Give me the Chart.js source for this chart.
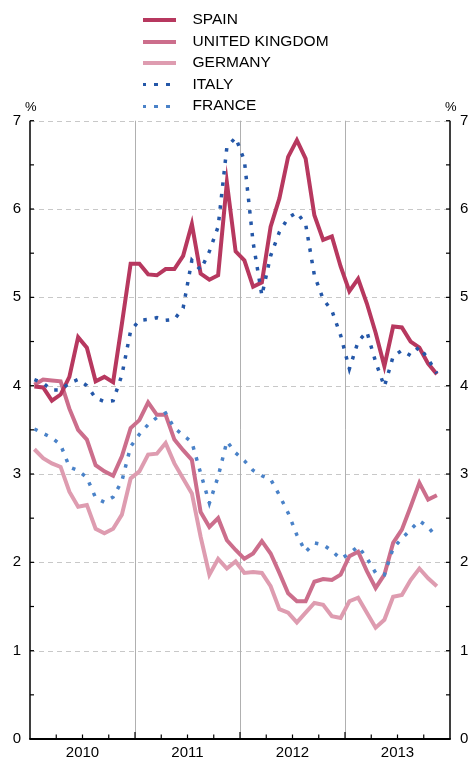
<!DOCTYPE html>
<html>
<head>
<meta charset="utf-8">
<script src="https://cdn.jsdelivr.net/npm/chart.js@4/dist/chart.umd.min.js"></script>
<style>
  html, body { margin: 0; padding: 0; background: #fff; }
  #wrap { position: relative; width: 468px; height: 758px; font-family: "Liberation Sans", Arial, sans-serif; color: #000; }
  #legend { position: absolute; left: 143px; top: 8px; }
  .row { height: 21.6px; line-height: 21.6px; font-size: 15.5px; white-space: nowrap; }
  .swatch { display: inline-block; width: 33px; vertical-align: middle; margin-right: 16.5px; }
  .pct { position: absolute; top: 99px; font-size: 13px; }
</style>
</head>
<body>
<div id="wrap">
  <canvas id="chart" width="468" height="758"></canvas>
  <div id="legend"></div>
  <div class="pct" style="left:25px">%</div>
  <div class="pct" style="left:445px">%</div>
</div>
<script>
// monthly, Jan 2010 - Nov 2013
const years = ['2010', '2011', '2012', '2013'];
const seriesNames = ['SPAIN', 'UNITED KINGDOM', 'GERMANY', 'ITALY', 'FRANCE'];

const spain = [3.99, 3.98, 3.83, 3.90, 4.10, 4.55, 4.43, 4.05, 4.10, 4.04, 4.70, 5.38,
               5.38, 5.26, 5.25, 5.32, 5.32, 5.47, 5.83, 5.27, 5.20, 5.25, 6.30, 5.52,
               5.42, 5.12, 5.17, 5.80, 6.12, 6.59, 6.78, 6.57, 5.93, 5.65, 5.69, 5.35,
               5.07, 5.21, 4.93, 4.60, 4.22, 4.67, 4.66, 4.50, 4.43, 4.25, 4.13];
const uk = [4.01, 4.07, 4.06, 4.05, 3.74, 3.50, 3.39, 3.10, 3.03, 2.98, 3.20, 3.52,
            3.61, 3.81, 3.67, 3.67, 3.39, 3.27, 3.16, 2.57, 2.40, 2.50, 2.25, 2.14,
            2.04, 2.10, 2.24, 2.10, 1.88, 1.65, 1.56, 1.56, 1.78, 1.81, 1.80, 1.86,
            2.07, 2.12, 1.90, 1.71, 1.86, 2.22, 2.37, 2.63, 2.90, 2.71, 2.76];
const germany = [3.28, 3.18, 3.12, 3.08, 2.80, 2.63, 2.65, 2.38, 2.33, 2.38, 2.54, 2.95,
                 3.03, 3.22, 3.23, 3.35, 3.12, 2.95, 2.78, 2.29, 1.86, 2.04, 1.93, 2.01,
                 1.88, 1.89, 1.88, 1.73, 1.47, 1.43, 1.32, 1.43, 1.54, 1.52, 1.39, 1.37,
                 1.56, 1.60, 1.43, 1.26, 1.35, 1.61, 1.63, 1.80, 1.93, 1.82, 1.73];
const italy = [4.07, 4.03, 3.95, 3.95, 4.03, 4.07, 4.00, 3.86, 3.82, 3.83, 4.12, 4.62,
               4.74, 4.75, 4.77, 4.74, 4.75, 4.88, 5.42, 5.31, 5.52, 5.80, 6.70, 6.81,
               6.55, 5.62, 5.02, 5.47, 5.74, 5.90, 5.96, 5.83, 5.25, 4.98, 4.85, 4.57,
               4.19, 4.50, 4.61, 4.27, 3.99, 4.33, 4.40, 4.34, 4.44, 4.30, 4.14];
const france = [3.51, 3.46, 3.41, 3.33, 3.08, 3.04, 2.96, 2.73, 2.68, 2.74, 2.92, 3.31,
                3.45, 3.56, 3.64, 3.69, 3.52, 3.44, 3.36, 3.01, 2.67, 2.97, 3.37, 3.24,
                3.15, 3.04, 2.98, 2.94, 2.76, 2.56, 2.31, 2.12, 2.22, 2.20, 2.13, 2.04,
                2.10, 2.18, 2.05, 1.88, 1.86, 2.16, 2.27, 2.37, 2.47, 2.40, 2.28];

const colors = ['#b7385f', '#cc6e8c', '#de9cb0', '#2457a8', '#4a82c8'];
const dotted = [false, false, false, true, true];
const values = [spain, uk, germany, italy, france];

const pts = arr => arr.map((v, i) => ({ x: i + 0.5, y: v }));

const datasets = values.map((arr, k) => ({
    label: seriesNames[k],
    data: pts(arr),
    borderColor: colors[k],
    borderWidth: dotted[k] ? 3.5 : 4,
    borderDash: dotted[k] ? [3.5, 8] : [],
    borderCapStyle: 'butt',
    borderJoinStyle: 'miter',
    pointRadius: 0,
    tension: 0,
    fill: false,
    order: dotted[k] ? 0 : 1
}));

// axes, dashed grid and inward tick marks
const frame = {
    id: 'frame',
    beforeDatasetsDraw(chart) {
        const { ctx, chartArea: a, scales: { x, y } } = chart;
        ctx.save();
        ctx.lineWidth = 1;
        ctx.strokeStyle = '#c8c8c8';
        ctx.setLineDash([5, 4]);
        for (let v = 1; v <= 7; v++) {
            const py = Math.round(y.getPixelForValue(v)) + 0.5;
            ctx.beginPath(); ctx.moveTo(a.left, py); ctx.lineTo(a.right, py); ctx.stroke();
        }
        ctx.setLineDash([]);
        ctx.strokeStyle = '#b0b0b0';
        for (let m = 12; m < 48; m += 12) {
            const px = Math.round(x.getPixelForValue(m)) + 0.5;
            ctx.beginPath(); ctx.moveTo(px, a.top); ctx.lineTo(px, a.bottom); ctx.stroke();
        }
        ctx.strokeStyle = '#000';
        ctx.lineWidth = 1.2;
        for (let v = 0.5; v < 7.01; v += 0.5) {
            const py = y.getPixelForValue(v);
            ctx.beginPath(); ctx.moveTo(a.left, py); ctx.lineTo(a.left + 4, py); ctx.stroke();
            ctx.beginPath(); ctx.moveTo(a.right - 4, py); ctx.lineTo(a.right, py); ctx.stroke();
        }
        for (let m = 3; m < 48; m += 3) {
            const px = x.getPixelForValue(m);
            const len = m % 12 === 0 ? 7 : 4.5;
            ctx.beginPath(); ctx.moveTo(px, a.bottom); ctx.lineTo(px, a.bottom - len); ctx.stroke();
        }
        ctx.lineWidth = 1.5;
        ctx.beginPath();
        ctx.moveTo(a.left, a.top); ctx.lineTo(a.left, a.bottom);
        ctx.moveTo(a.right, a.top); ctx.lineTo(a.right, a.bottom);
        ctx.stroke();
        ctx.lineWidth = 2;
        ctx.beginPath(); ctx.moveTo(a.left - 0.75, a.bottom); ctx.lineTo(a.right + 0.75, a.bottom); ctx.stroke();
        ctx.restore();
    }
};

const font = { family: '"Liberation Sans", Arial, sans-serif', size: 15 };
const yAxis = (pos, width, pad) => ({
    type: 'linear', position: pos, min: 0, max: 7,
    grid: { display: false, drawTicks: false }, border: { display: false },
    ticks: { stepSize: 1, color: '#000', font: font, padding: pad },
    afterFit(scale) { scale.width = width; }
});

new Chart(document.getElementById('chart'), {
    type: 'line',
    data: { datasets: datasets },
    options: {
        responsive: false,
        animation: false,
        layout: { padding: { top: 120.7, left: 0, right: 0, bottom: 0 } },
        plugins: { legend: { display: false }, tooltip: { enabled: false } },
        scales: {
            x: {
                type: 'linear', min: 0, max: 48,
                grid: { display: false, drawTicks: false }, border: { display: false },
                afterBuildTicks(scale) { scale.ticks = years.map((yr, i) => ({ value: 6 + 12 * i })); },
                ticks: {
                    color: '#000', font: font, padding: 5, autoSkip: false, maxRotation: 0,
                    callback: v => years[(v - 6) / 12]
                },
                afterFit(scale) { scale.height = 18.7; }
            },
            y: yAxis('left', 30, 9),
            y2: yAxis('right', 18, 10)
        }
    },
    plugins: [frame]
});

// legend
const legend = document.getElementById('legend');
seriesNames.forEach((name, k) => {
    const row = document.createElement('div');
    row.className = 'row';
    const sw = document.createElement('span');
    sw.className = 'swatch';
    if (dotted[k]) {
        sw.style.height = '3.5px';
        sw.style.background = 'repeating-linear-gradient(to right, ' + colors[k] + ' 0 3.5px, transparent 3.5px 11.5px)';
    } else {
        sw.style.height = '4px';
        sw.style.background = colors[k];
    }
    row.appendChild(sw);
    row.appendChild(document.createTextNode(name));
    legend.appendChild(row);
});
</script>
</body>
</html>
